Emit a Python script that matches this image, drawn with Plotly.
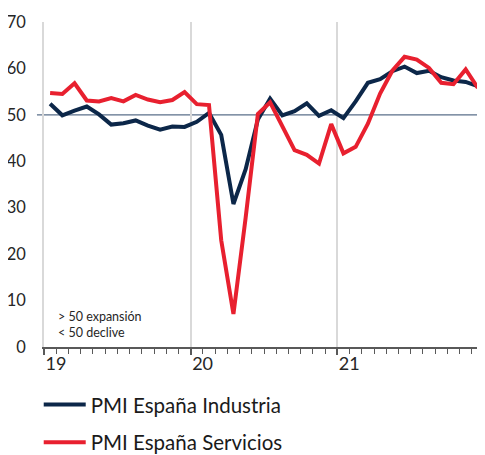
import plotly.graph_objects as go

months = [f"{y}-{m:02d}" for y in (2019, 2020, 2021) for m in range(1, 13)]

industria = [52.4, 49.9, 50.9, 51.8, 50.1, 47.9, 48.2, 48.8, 47.7, 46.8, 47.5, 47.4,
             48.5, 50.4, 45.7, 30.8, 38.3, 49.0, 53.5, 49.9, 50.8, 52.5, 49.8, 51.0,
             49.3, 52.9, 56.9, 57.7, 59.4, 60.4, 59.0, 59.5, 58.1, 57.4, 57.1, 56.2]

servicios = [54.7, 54.5, 56.8, 53.1, 52.9, 53.6, 52.9, 54.3, 53.3, 52.7, 53.2, 54.9,
             52.3, 52.1, 23.0, 7.1, 27.9, 50.2, 52.7, 47.7, 42.4, 41.4, 39.5, 48.0,
             41.7, 43.1, 48.1, 54.6, 59.5, 62.5, 61.9, 60.1, 56.9, 56.6, 59.8, 55.8]

year_labels = ["19", "20", "21", ""]
y_ticks = [0, 10, 20, 30, 40, 50, 60, 70]
threshold = 50
note_lines = ["> 50 expansión", "< 50 declive"]

xpos = [i + 0.5 for i in range(len(months))]

FONT = "Lato"
NAVY = "#0c2749"
RED = "#e8202f"

fig = go.Figure()
fig.add_trace(go.Scatter(x=xpos, y=industria, mode="lines", name="PMI España Industria",
                         line=dict(color=NAVY, width=4), legendgroup="a"))
fig.add_trace(go.Scatter(x=xpos, y=servicios, mode="lines", name="PMI España Servicios",
                         line=dict(color=RED, width=4), legendgroup="b"))

fig.add_shape(type="line", xref="paper", yref="y", x0=-0.016, x1=1, y0=threshold, y1=threshold,
              line=dict(color="#5a6f8a", width=1.2), layer="below")

fig.add_annotation(text="<br>".join(note_lines), xref="x", yref="y", x=1.0, y=4.9,
                   xanchor="left", yanchor="middle", showarrow=False, align="left",
                   font=dict(family=FONT, size=12.5, color="#262626"))

fig.update_layout(
    width=477, height=447,
    margin=dict(l=36, r=1, t=14, b=108, autoexpand=False),
    plot_bgcolor="white", paper_bgcolor="white",
    font=dict(family=FONT, color="#262626"),
    showlegend=True,
    legend=dict(orientation="v", x=-0.012, xanchor="left", y=-0.116, yanchor="top",
                font=dict(family=FONT, size=20.5, color="#1a1a1a"),
                itemwidth=42, tracegroupgap=8, bgcolor="rgba(0,0,0,0)"),
    xaxis=dict(range=[0, 36], tickmode="array", tickvals=[0, 12, 24, 36], ticktext=year_labels,
               showgrid=True, gridcolor="#d9d9d9", gridwidth=1.5,
               showline=True, linecolor="#595959", linewidth=1.5,
               ticks="outside", ticklen=6, tickwidth=1.5, tickcolor="#595959",
               ticklabelposition="outside right", automargin=False,
               minor=dict(dtick=1, tick0=0, ticks="outside", ticklen=5, tickwidth=1, tickcolor="#595959", showgrid=False),
               tickfont=dict(family=FONT, size=18, color="#262626"), zeroline=False, fixedrange=True),
    yaxis=dict(range=[0, 70], tickvals=y_ticks, showgrid=False, zeroline=False,
               showline=True, linecolor="#d9d9d9", linewidth=1.5, mirror=True,
               ticks="", ticklabelstandoff=13, automargin=False,
               tickfont=dict(family=FONT, size=16.5, color="#262626"), fixedrange=True),
)

fig.write_html("out.html")
